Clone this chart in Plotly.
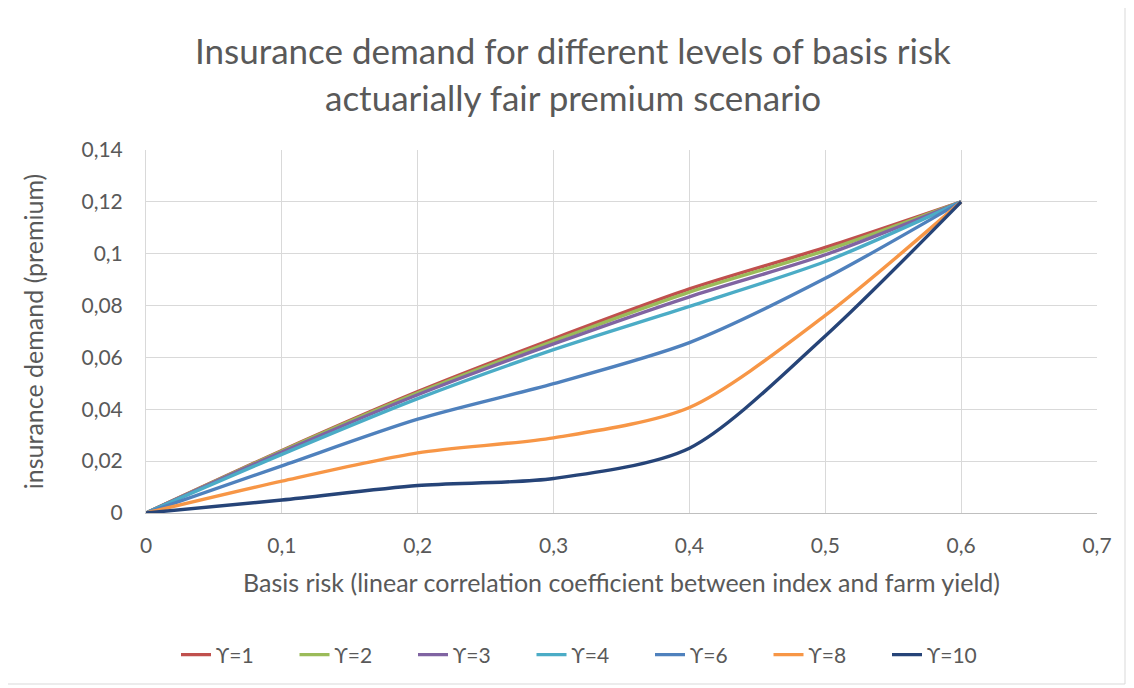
import plotly.graph_objects as go

x_vals = [0, 0.1, 0.2, 0.3, 0.4, 0.5, 0.6]
y_g1 = [0, 0.0241, 0.0468, 0.0672, 0.0864, 0.1024, 0.12]
y_g2 = [0, 0.0239, 0.0463, 0.0663, 0.0852, 0.1012, 0.12]
y_g3 = [0, 0.0235, 0.0456, 0.0652, 0.0834, 0.0996, 0.12]
y_g4 = [0, 0.0226, 0.0441, 0.0630, 0.0797, 0.0970, 0.12]
y_g6 = [0, 0.0182, 0.0362, 0.0499, 0.0657, 0.0905, 0.12]
y_g8 = [0, 0.0123, 0.0232, 0.0290, 0.0407, 0.0762, 0.12]
y_g10 = [0, 0.0050, 0.0106, 0.0133, 0.0250, 0.0683, 0.12]

names = ["ϒ=1", "ϒ=2", "ϒ=3", "ϒ=4", "ϒ=6", "ϒ=8", "ϒ=10"]
series = [y_g1, y_g2, y_g3, y_g4, y_g6, y_g8, y_g10]
colors = ["#C0504D", "#9BBB59", "#8064A2", "#4BACC6", "#4F81BD", "#F79646", "#264478"]

title_line1 = "Insurance demand for different levels of basis risk"
title_line2 = "actuarially fair premium scenario"
x_title = "Basis risk (linear correlation coefficient between index and farm yield)"
y_title = "insurance demand (premium)"

FONT = "Lato"
GREY = "#595959"

# page body offset of 8px in the browser
OFF = 8
L, T, PW, PH = 146 - OFF, 150 - OFF, 951, 363

fig = go.Figure()
for name, ys, c in zip(names, series, colors):
    fig.add_trace(go.Scatter(
        x=x_vals, y=ys, name=name, mode="lines",
        line=dict(color=c, width=3.4, shape="spline", smoothing=0.8),
    ))

def py(p):
    return (513 - p) / PH

def px(p):
    return (p - 146) / PW

fig.update_layout(
    width=1134, height=688,
    paper_bgcolor="white", plot_bgcolor="white",
    margin=dict(l=L, r=1134 - L - PW, t=T, b=688 - T - PH, autoexpand=False),
    separators=", ",
    font=dict(family=FONT, color=GREY, size=18),
    showlegend=True,
    legend=dict(orientation="h", x=px(176), xanchor="left", y=py(655), yanchor="middle",
                font=dict(family=FONT, size=21, color=GREY), entrywidth=73.5, entrywidthmode="pixels",
                traceorder="normal"),
    annotations=[
        dict(text=title_line1, xref="paper", yref="paper", x=px(573), y=py(50),
             showarrow=False, font=dict(family=FONT, size=35, color=GREY), xanchor="center", yanchor="middle"),
        dict(text=title_line2, xref="paper", yref="paper", x=px(573), y=py(97),
             showarrow=False, font=dict(family=FONT, size=35, color=GREY), xanchor="center", yanchor="middle"),
    ],
    shapes=[dict(type="rect", xref="paper", yref="paper",
                 x0=px(7), x1=px(1125), y0=py(684), y1=py(6),
                 line=dict(color="#D9D9D9", width=1), layer="below")],
)

fig.update_xaxes(
    range=[0, 0.7], dtick=0.1, tick0=0,
    showgrid=True, gridcolor="#D9D9D9", gridwidth=1,
    zeroline=False, showline=True, linecolor="#BFBFBF", linewidth=1, mirror=False,
    ticks="", ticklabelstandoff=14, tickfont=dict(size=21, color=GREY, family=FONT),
    title=dict(text=x_title, font=dict(size=25, color=GREY, family=FONT), standoff=18),
)
fig.update_yaxes(
    range=[0, 0.14], dtick=0.02, tick0=0,
    showgrid=True, gridcolor="#D9D9D9", gridwidth=1,
    zeroline=False, showline=True, linecolor="#D9D9D9", linewidth=1,
    ticks="", ticklabelstandoff=18, tickfont=dict(size=21, color=GREY, family=FONT),
    title=dict(text=y_title, font=dict(size=25, color=GREY, family=FONT), standoff=30),
)

fig.write_html("out.html")
